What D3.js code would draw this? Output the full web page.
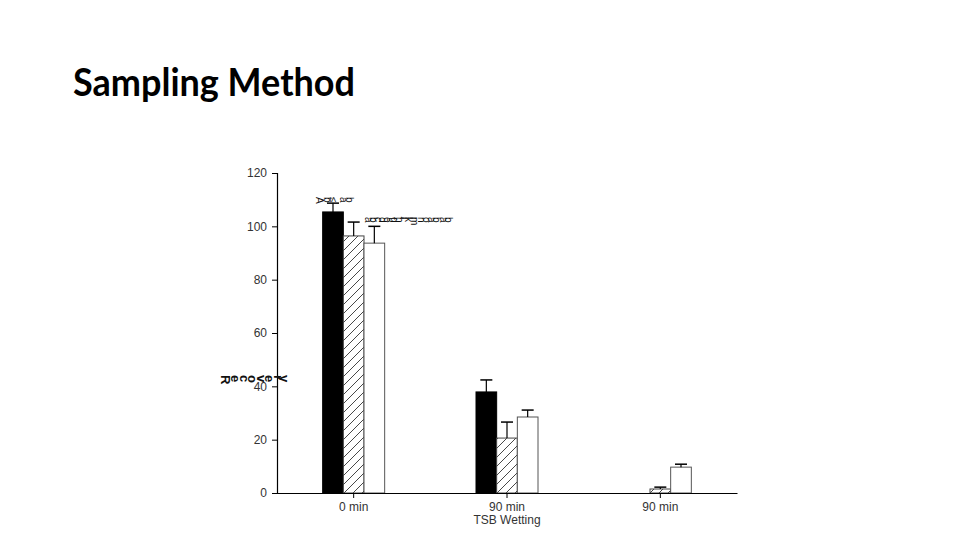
<!DOCTYPE html>
<html>
<head>
<meta charset="utf-8">
<script src="https://cdn.jsdelivr.net/npm/d3@7"></script>
<style>
  html, body { margin: 0; padding: 0; background: #ffffff; }
  svg { display: block; }
</style>
</head>
<body>
<svg id="chart" width="960" height="540"></svg>
<script>
// ---- data ----
const categories = ["0 min", "90 min", "90 min"];
const seriesNames = ["Black", "Hatched", "White"];
const blackValues = [105.4, 37.9, 0];
const blackErrTop = [108.7, 42.4, null];
const hatchedValues = [96.4, 20.6, 1.5];
const hatchedErrTop = [101.6, 26.6, 2.2];
const whiteValues = [93.7, 28.5, 9.7];
const whiteErrTop = [100.0, 31.1, 10.8];
const yTicks = [0, 20, 40, 60, 80, 100, 120];
const titleText = "Sampling Method";
const xAxisTitle = "TSB Wetting";
const yAxisTitle = "Recovery";
const barNoteA = "Ab\u2264 ab";
const barNoteB = "abcdefghijklmnoab ab";

const svg = d3.select("#chart");

// title
svg.append("text")
  .attr("x", 73).attr("y", 96)
  .attr("font-family", "Lato, 'Open Sans', sans-serif")
  .attr("font-size", 39)
  .attr("font-weight", "bold")
  .attr("fill", "#000")
  .attr("textLength", 282)
  .attr("lengthAdjust", "spacingAndGlyphs")
  .text(titleText);

// hatch pattern
const defs = svg.append("defs");
const pat = defs.append("pattern")
  .attr("id", "hatch")
  .attr("patternUnits", "userSpaceOnUse")
  .attr("width", 9).attr("height", 9);
pat.append("rect").attr("width", 9).attr("height", 9).attr("fill", "#fff");
pat.append("path")
  .attr("d", "M-1,10 L10,-1 M-3,3 L3,-3 M6,12 L12,6")
  .attr("stroke", "#333").attr("stroke-width", 0.9);

const y = d3.scaleLinear().domain([0, 120]).range([493, 173]);
const x = d3.scaleBand().domain(d3.range(categories.length)).range([277, 737]).padding(0);
const inner = d3.scaleBand().domain(d3.range(3)).range([-31, 31]).padding(0);

const series = [
  { vals: blackValues, err: blackErrTop, fill: "#000", stroke: "#000" },
  { vals: hatchedValues, err: hatchedErrTop, fill: "url(#hatch)", stroke: "#444" },
  { vals: whiteValues, err: whiteErrTop, fill: "#fff", stroke: "#555" }
];

const plot = svg.append("g");
series.forEach((s, si) => {
  categories.forEach((c, ci) => {
    const v = s.vals[ci];
    const cx = x(ci) + x.bandwidth() / 2;
    const bx = cx + inner(si);
    const bw = inner.bandwidth();
    if (v > 0) {
      plot.append("rect")
        .attr("x", bx).attr("y", y(v))
        .attr("width", bw).attr("height", y(0) - y(v))
        .attr("fill", s.fill)
        .attr("stroke", s.stroke).attr("stroke-width", 1);
    }
    const e = s.err[ci];
    if (e != null) {
      const ex = bx + bw / 2;
      plot.append("line")
        .attr("x1", ex).attr("x2", ex)
        .attr("y1", y(v)).attr("y2", y(e))
        .attr("stroke", "#000").attr("stroke-width", 1.2);
      plot.append("line")
        .attr("x1", ex - 6).attr("x2", ex + 6)
        .attr("y1", y(e)).attr("y2", y(e))
        .attr("stroke", "#000").attr("stroke-width", 1.5);
    }
  });
});

// y axis
const yAxis = d3.axisLeft(y).tickValues(yTicks).tickSize(5).tickPadding(5);
const gy = svg.append("g").attr("transform", "translate(277,0)").call(yAxis);
gy.select(".domain").attr("stroke", "#000").attr("stroke-width", 1.2);
gy.selectAll(".tick line").attr("stroke", "#000");
gy.selectAll(".tick text")
  .attr("font-family", "'Liberation Sans', Arial, sans-serif")
  .attr("font-size", 12).attr("fill", "#333");

// x axis
const xAxis = d3.axisBottom(x).tickFormat(i => categories[i]).tickSizeInner(5).tickSizeOuter(0).tickPadding(4);
const gx = svg.append("g").attr("transform", "translate(0,493)").call(xAxis);
gx.select(".domain").attr("stroke", "#000").attr("stroke-width", 1.2);
gx.selectAll(".tick line").attr("stroke", "#000");
gx.selectAll(".tick text")
  .attr("font-family", "'Liberation Sans', Arial, sans-serif")
  .attr("font-size", 12).attr("fill", "#333");

svg.append("text")
  .attr("x", x(1) + x.bandwidth() / 2).attr("y", 524)
  .attr("text-anchor", "middle")
  .attr("font-family", "'Liberation Sans', Arial, sans-serif")
  .attr("font-size", 12).attr("fill", "#333")
  .text(xAxisTitle);

// garbled y-axis title (glyphs individually rotated)
svg.append("text")
  .attr("x", 221).attr("y", 375)
  .attr("rotate", 90)
  .attr("font-family", "'Liberation Sans', Arial, sans-serif")
  .attr("font-size", 13).attr("font-weight", "bold").attr("fill", "#111")
  .attr("textLength", 66)
  .attr("lengthAdjust", "spacing")
  .text(yAxisTitle);

// garbled annotations near bars
svg.append("text")
  .attr("x", 316).attr("y", 197)
  .attr("rotate", 90)
  .attr("font-family", "'Liberation Sans', Arial, sans-serif")
  .attr("font-size", 10).attr("fill", "#111")
  .attr("textLength", 36)
  .text(barNoteA);
svg.append("text")
  .attr("x", 365).attr("y", 217)
  .attr("rotate", 90)
  .attr("font-family", "'Liberation Sans', Arial, sans-serif")
  .attr("font-size", 10).attr("fill", "#111")
  .attr("textLength", 86)
  .text(barNoteB);
</script>
</body>
</html>
